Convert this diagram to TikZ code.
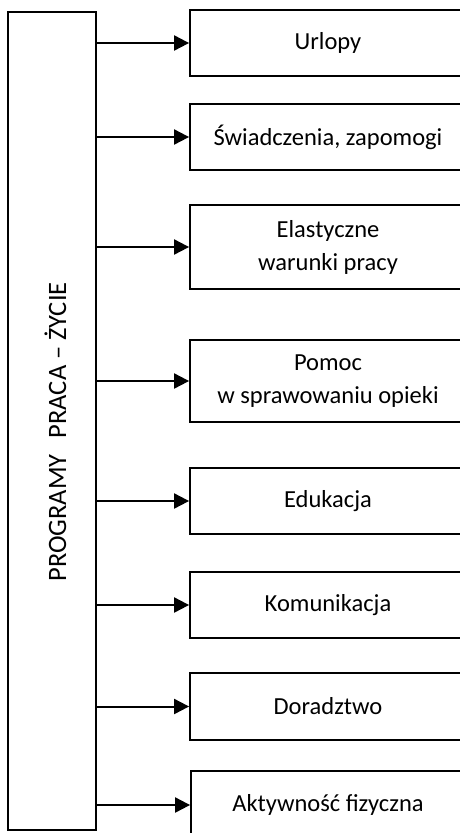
\documentclass[tikz,border=0pt]{standalone}
\usepackage{fontspec}
\setmainfont{Carlito}
\usetikzlibrary{arrows.meta}
\begin{document}
\begin{tikzpicture}[x=1pt,y=-1pt,
  box/.style={draw,line width=1.8pt,rectangle,align=center,inner sep=0pt,
    font=\fontsize{24.5}{33}\selectfont},
  arr/.style={line width=2pt,-{Triangle[length=15pt,width=15pt]}}]
\useasboundingbox (0,0) rectangle (459,833);
\node[draw,line width=1.8pt,minimum width=88pt,minimum height=818pt,inner sep=0pt] (main) at (52,421) {};
\node[rotate=90,anchor=base,inner sep=0pt,font=\fontsize{26.5}{30}\selectfont] (title) at (66,432) {PROGRAMY\hspace{0.6em}PRACA – ŻYCIE};
\node[box,minimum width=276pt,minimum height=66pt] (b1) at (328,43) {Urlopy};
\node[box,minimum width=276pt,minimum height=66pt] (b2) at (328,137) {Świadczenia, zapomogi};
\node[box,minimum width=276pt,minimum height=84pt] (b3) at (328,247) {Elastyczne\\warunki pracy};
\node[box,minimum width=276pt,minimum height=82pt] (b4) at (328,381) {Pomoc\\w sprawowaniu opieki};
\node[box,minimum width=276pt,minimum height=66pt] (b5) at (328,501) {Edukacja};
\node[box,minimum width=276pt,minimum height=66pt] (b6) at (328,605) {Komunikacja};
\node[box,minimum width=276pt,minimum height=67pt] (b7) at (328,706.5) {Doradztwo};
\node[box,minimum width=274pt,minimum height=68pt] (b8) at (328,805) {Aktywność fizyczna};
\foreach \b in {b1,b2,b3,b4,b5,b6,b7,b8}
  \draw[arr] (main.east |- \b.west) -- (\b.west);
\end{tikzpicture}
\end{document}
